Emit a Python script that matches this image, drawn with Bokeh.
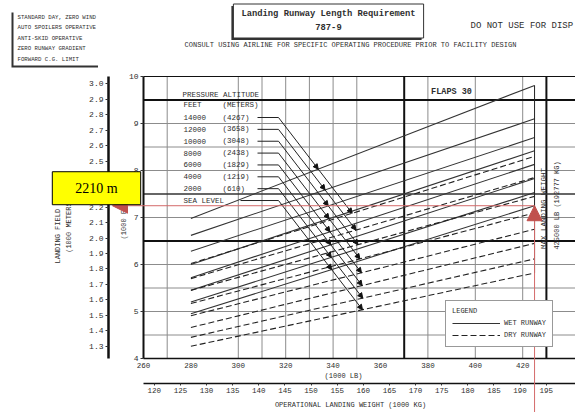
import math
from bokeh.plotting import figure
from bokeh.models import (Range1d, LinearAxis, FixedTicker, Label, Arrow, NormalHead,
                          ColumnDataSource, Legend, LegendItem, PrintfTickFormatter)
from bokeh.core.properties import value
from bokeh.embed import file_html
from bokeh.resources import INLINE

# ---------------- data ----------------
alt_feet = ["14000", "12000", "10000", "8000", "6000", "4000", "2000", "SEA LEVEL"]
alt_meters = ["(4267)", "(3658)", "(3048)", "(2438)", "(1829)", "(1219)", "(610)", ""]
curve_weight_lb = [280, 425]                                     # 1000 LB, both ends of every curve
wet_len_start = [6.98, 6.62, 6.28, 6.00, 5.72, 5.45, 5.20, 4.95]  # 1000 FT at 280
wet_len_end = [9.81, 9.10, 8.70, 8.42, 8.13, 7.83, 7.53, 7.25]    # 1000 FT at 425
dry_len_start = [6.02, 5.70, 5.45, 5.17, 4.91, 4.66, 4.45, 4.26]
dry_len_end = [8.30, 7.85, 7.45, 7.10, 6.75, 6.45, 6.12, 5.82]
mlw_lb = 425
mlw_kg = 192777
example_m = 2210

lb_ticks = [260, 280, 300, 320, 340, 360, 380, 400, 420]
kg_ticks = [120, 125, 130, 135, 140, 145, 150, 155, 160, 165, 170, 175, 180, 185, 190, 195]
ft_ticks = [4, 5, 6, 7, 8, 9, 10]
m_ticks = [1.3, 1.4, 1.5, 1.6, 1.7, 1.8, 1.9, 2.0, 2.1, 2.2, 2.3, 2.4, 2.5, 2.6, 2.7, 2.8, 2.9, 3.0]
grid_lb_thin = [270, 300, 310, 320, 330, 340, 350, 380, 400, 420]
grid_lb_thick = [370, 430]
grid_ft_thin = [4.5, 5, 5.5, 6, 7, 8, 8.5, 9]
grid_ft_thick = [9.5, 6.5]
grid_ft_mid = [7.5]

notes = ["STANDARD DAY, ZERO WIND", "AUTO SPOILERS OPERATIVE", "ANTI-SKID OPERATIVE",
         "ZERO RUNWAY GRADIENT", "FORWARD C.G. LIMIT"]
title_lines = ["Landing Runway Length Requirement", "787-9"]

# ---------------- layout helpers (page pixels -> chart units) ----------------
W, H = 575, 412
LB_PER_KG = 2.20462
FT_PER_M = 3.28084
PX_LB = 2.37      # px per 1000 lb
PX_FT = 47.0      # px per 1000 ft
FRAME_L, FRAME_T = 143, 76      # pixel of (260 lb, 10 000 ft)
X0, Y0, Y1 = 260, 4, 10


def lx(px):
    return X0 + (px - FRAME_L) / PX_LB


def ly(py):
    return Y1 - (py - FRAME_T) / PX_FT


XR = lx(W)
MONO = "Liberation Mono"
INK = "#2e2e2e"
RED = "#c0504d"

p = figure(width=W, height=H, x_range=Range1d(lx(0), lx(W)), y_range=Range1d(ly(H), ly(0)),
           output_backend="svg", toolbar_location=None, title=None,
           min_border_left=0, min_border_right=0, min_border_top=0, min_border_bottom=0)
p.outline_line_color = None
p.background_fill_color = "white"
p.border_fill_color = "white"
p.extra_y_ranges = {"m": Range1d(ly(H) / FT_PER_M, ly(0) / FT_PER_M)}
p.extra_x_ranges = {"kg": Range1d(lx(0) / LB_PER_KG, lx(W) / LB_PER_KG)}
p.xgrid.visible = False
p.ygrid.visible = False


def style_axis(ax, size="7.5px"):
    ax.major_label_text_font = MONO
    ax.major_label_text_font_size = size
    ax.major_label_text_color = INK
    ax.minor_tick_line_color = None
    ax.major_tick_in = 0
    ax.axis_line_color = "#111"
    ax.major_tick_line_color = "#333"


# primary y axis (1000 FT) at the chart's left edge
ya = p.yaxis[0]
ya.ticker = FixedTicker(ticks=ft_ticks)
style_axis(ya, "8px")
ya.fixed_location = X0
ya.bounds = (Y0, Y1)
ya.major_tick_out = 3
ya.major_label_standoff = 2
ya.axis_line_width = 2

# metric field-length axis
m_axis = LinearAxis(y_range_name="m", ticker=FixedTicker(ticks=m_ticks),
                    formatter=PrintfTickFormatter(format="%.1f"))
style_axis(m_axis, "8px")
m_axis.fixed_location = lx(108)
m_axis.bounds = (Y0 / FT_PER_M, Y1 / FT_PER_M)
m_axis.axis_line_width = 2.5
m_axis.major_tick_out = 3
m_axis.major_label_standoff = 2
p.add_layout(m_axis, "left")

# weight axes
xa = p.xaxis[0]
xa.ticker = FixedTicker(ticks=lb_ticks)
style_axis(xa)
xa.fixed_location = Y0
xa.bounds = (X0, XR)
xa.major_tick_out = 0
xa.major_label_standoff = 4
xa.axis_line_width = 1.5

kg_axis = LinearAxis(x_range_name="kg", ticker=FixedTicker(ticks=kg_ticks))
style_axis(kg_axis)
kg_axis.fixed_location = ly(383)
kg_axis.bounds = (X0 / LB_PER_KG, XR / LB_PER_KG)
kg_axis.major_tick_out = 2
kg_axis.major_label_standoff = 2
kg_axis.axis_line_width = 1.5
p.add_layout(kg_axis, "below")


def axis_title(x, y, text, angle=0.0, size="7px"):
    p.add_layout(Label(x=lx(x), y=ly(y), text=text, angle=angle, text_font=MONO,
                       text_font_size=size, text_color=INK, text_align="center",
                       text_baseline="middle"))


axis_title(343, 375, "(1000 LB)")
axis_title(350, 404, "OPERATIONAL LANDING WEIGHT (1000 KG)")
axis_title(57, 221, "LANDING FIELD LENGTH", math.pi / 2)
axis_title(68, 225, "(1000 METERS)", math.pi / 2)
axis_title(123, 220, "(1000 FT)", math.pi / 2)

# grid lines of the chart
p.segment(x0=grid_lb_thin, y0=[Y0] * len(grid_lb_thin), x1=grid_lb_thin, y1=[Y1] * len(grid_lb_thin),
          line_color="#8c8c8c", line_width=1)
p.segment(x0=[X0] * len(grid_ft_thin), y0=grid_ft_thin, x1=[XR] * len(grid_ft_thin), y1=grid_ft_thin,
          line_color="#8c8c8c", line_width=1)
p.segment(x0=grid_lb_thick, y0=[Y0] * len(grid_lb_thick), x1=grid_lb_thick, y1=[Y1] * len(grid_lb_thick),
          line_color="#111", line_width=2)
p.segment(x0=[X0] * len(grid_ft_thick), y0=grid_ft_thick, x1=[XR] * len(grid_ft_thick), y1=grid_ft_thick,
          line_color="#111", line_width=2)
p.segment(x0=[X0] * len(grid_ft_mid), y0=grid_ft_mid, x1=[XR] * len(grid_ft_mid), y1=grid_ft_mid,
          line_color="#333", line_width=1.4)
p.segment(x0=[X0], y0=[Y1], x1=[XR], y1=[Y1], line_color="#111", line_width=1.2)

# performance curves
xs = [list(curve_weight_lb) for _ in alt_feet]
wet_r = p.multi_line(xs=xs, ys=[[a, b] for a, b in zip(wet_len_start, wet_len_end)],
                     line_color="#333", line_width=1.1)
dry_r = p.multi_line(xs=xs, ys=[[a, b] for a, b in zip(dry_len_start, dry_len_end)],
                     line_color="#222", line_width=1.1, line_dash="6 3")

# max landing weight limit line
p.segment(x0=[mlw_lb], y0=[min(dry_len_end)], x1=[mlw_lb], y1=[max(wet_len_end)],
          line_color="#222", line_width=1)

# pressure altitude legend text + leaders
row_y = [ly(117 + 11.86 * i) for i in range(len(alt_feet))]
txt = dict(text_font=value(MONO), text_font_size=value("7.5px"), text_color=INK, text_baseline="middle")
p.text(x=[lx(182)], y=[ly(94)], text=["PRESSURE ALTITUDE"], **txt)
p.text(x=[lx(183), lx(222)], y=[ly(104)] * 2, text=["FEET", "(METERS)"], **txt)
p.text(x=[lx(183)] * len(alt_feet), y=row_y, text=alt_feet, **txt)
p.text(x=[lx(222)] * len(alt_feet), y=row_y, text=alt_meters, **txt)

bend_x = lx(278)
lead_slope = -1.3 * PX_LB / PX_FT   # 1000 ft per 1000 lb


def meet(a, e, r):
    b = (e - a) / (curve_weight_lb[1] - curve_weight_lb[0])
    x = (a - curve_weight_lb[0] * b - r + lead_slope * bend_x) / (lead_slope - b)
    return x, r + lead_slope * (x - bend_x)


lead_x0 = [lx(257)] * (len(alt_feet) - 1) + [lx(240)]
p.segment(x0=lead_x0, y0=row_y, x1=[bend_x] * len(row_y), y1=row_y, line_color="#222", line_width=1)
xs0, ys0, xs1, ys1 = [], [], [], []
for i, r in enumerate(row_y):
    wx, wy = meet(wet_len_start[i], wet_len_end[i], r)
    dx, dy = meet(dry_len_start[i], dry_len_end[i], r)
    xs0 += [bend_x, wx]
    ys0 += [r, wy]
    xs1 += [wx, dx]
    ys1 += [wy, dy]
p.add_layout(Arrow(source=ColumnDataSource(dict(xs=xs0, ys=ys0, xe=xs1, ye=ys1)),
                   x_start="xs", y_start="ys", x_end="xe", y_end="ye",
                   end=NormalHead(size=5, fill_color="#111", line_color="#111"),
                   line_color="#222", line_width=1))

# runway legend
legend = Legend(items=[LegendItem(label="WET RUNWAY", renderers=[wet_r]),
                       LegendItem(label="DRY RUNWAY", renderers=[dry_r])],
                title="LEGEND", location=(445, H - 347), margin=0, padding=6, spacing=2,
                glyph_width=48, glyph_height=10, label_height=10, label_standoff=4,
                title_standoff=3, border_line_color="#333", border_line_width=1,
                background_fill_color="white", background_fill_alpha=1,
                label_text_font=MONO, label_text_font_size="7px", label_text_color=INK,
                title_text_font=MONO, title_text_font_size="7px", title_text_color=INK,
                title_text_font_style="normal")
p.add_layout(legend)

# texts inside chart
p.add_layout(Label(x=lx(451), y=ly(91), text="FLAPS 30", text_font=MONO, text_font_size="8.5px",
                   text_font_style="bold", text_color=INK, text_align="center", text_baseline="middle"))
p.add_layout(Label(x=lx(543), y=ly(208), text="MAX LANDING WEIGHT", angle=math.pi / 2,
                   text_font=MONO, text_font_size="7.5px", text_color=INK,
                   text_align="center", text_baseline="middle"))
p.add_layout(Label(x=lx(556), y=ly(205), text=f"{mlw_lb}000 LB ({mlw_kg} KG)", angle=math.pi / 2,
                   text_font=MONO, text_font_size="7px", text_color=INK,
                   text_align="center", text_baseline="middle"))

# header texts
notes_text = "\n".join(notes)
note_kw = dict(x=lx(13), y=ly(10), text=notes_text, text_font=MONO, text_font_size="5.7px",
               text_line_height=1.5, padding=(4, 3), text_baseline="top")
p.add_layout(Label(text_color="#333", background_fill_color="#333", x_offset=-2, y_offset=-2, **note_kw))
p.add_layout(Label(text_color=INK, background_fill_color="white", **note_kw))
title_kw = dict(x=lx(328), y=ly(20.5), text="\n".join(title_lines), text_font=MONO, text_font_size="8.8px",
                text_font_style="bold", text_line_height=1.4, padding=(8, 5),
                text_align="center", text_baseline="middle")
p.add_layout(Label(text_color="#333", background_fill_color="#333", x_offset=-2, y_offset=-2, **title_kw))
p.add_layout(Label(text_color=INK, background_fill_color="white", border_line_color="#333", **title_kw))
p.add_layout(Label(x=lx(470), y=ly(25), text="DO NOT USE FOR DISP", text_font=MONO,
                   text_font_size="9px", text_color=INK, text_baseline="middle"))
p.add_layout(Label(x=lx(350), y=ly(44),
                   text="CONSULT USING AIRLINE FOR SPECIFIC OPERATING PROCEDURE PRIOR TO FACILITY DESIGN",
                   text_font=MONO, text_font_size="7px", text_color=INK,
                   text_align="center", text_baseline="middle"))

# example reading (red arrows + yellow call-out)
y_red = example_m * FT_PER_M / 1000
y_red_px = FRAME_T + (Y1 - y_red) * PX_FT
p.add_layout(Arrow(x_start=mlw_lb, y_start=ly(H + 10), x_end=mlw_lb, y_end=y_red,
                   end=NormalHead(size=15, fill_color=RED, line_color=RED),
                   line_color="#d46a6a", line_width=1))
p.add_layout(Arrow(x_start=mlw_lb, y_start=y_red, x_end=lx(112), y_end=y_red,
                   end=NormalHead(size=15, fill_color=RED, line_color=RED),
                   line_color="#d46a6a", line_width=1))
p.add_layout(Label(x=lx(96), y=ly(y_red_px - 17.5), text=f"{example_m} m",
                   text_font="Liberation Serif", text_font_size="14px", text_color="black",
                   background_fill_color="#ffff00", border_line_color="black", border_line_width=1,
                   padding=(23, 9), text_align="center", text_baseline="middle"))

open("out.html", "w").write(file_html(p, INLINE))
